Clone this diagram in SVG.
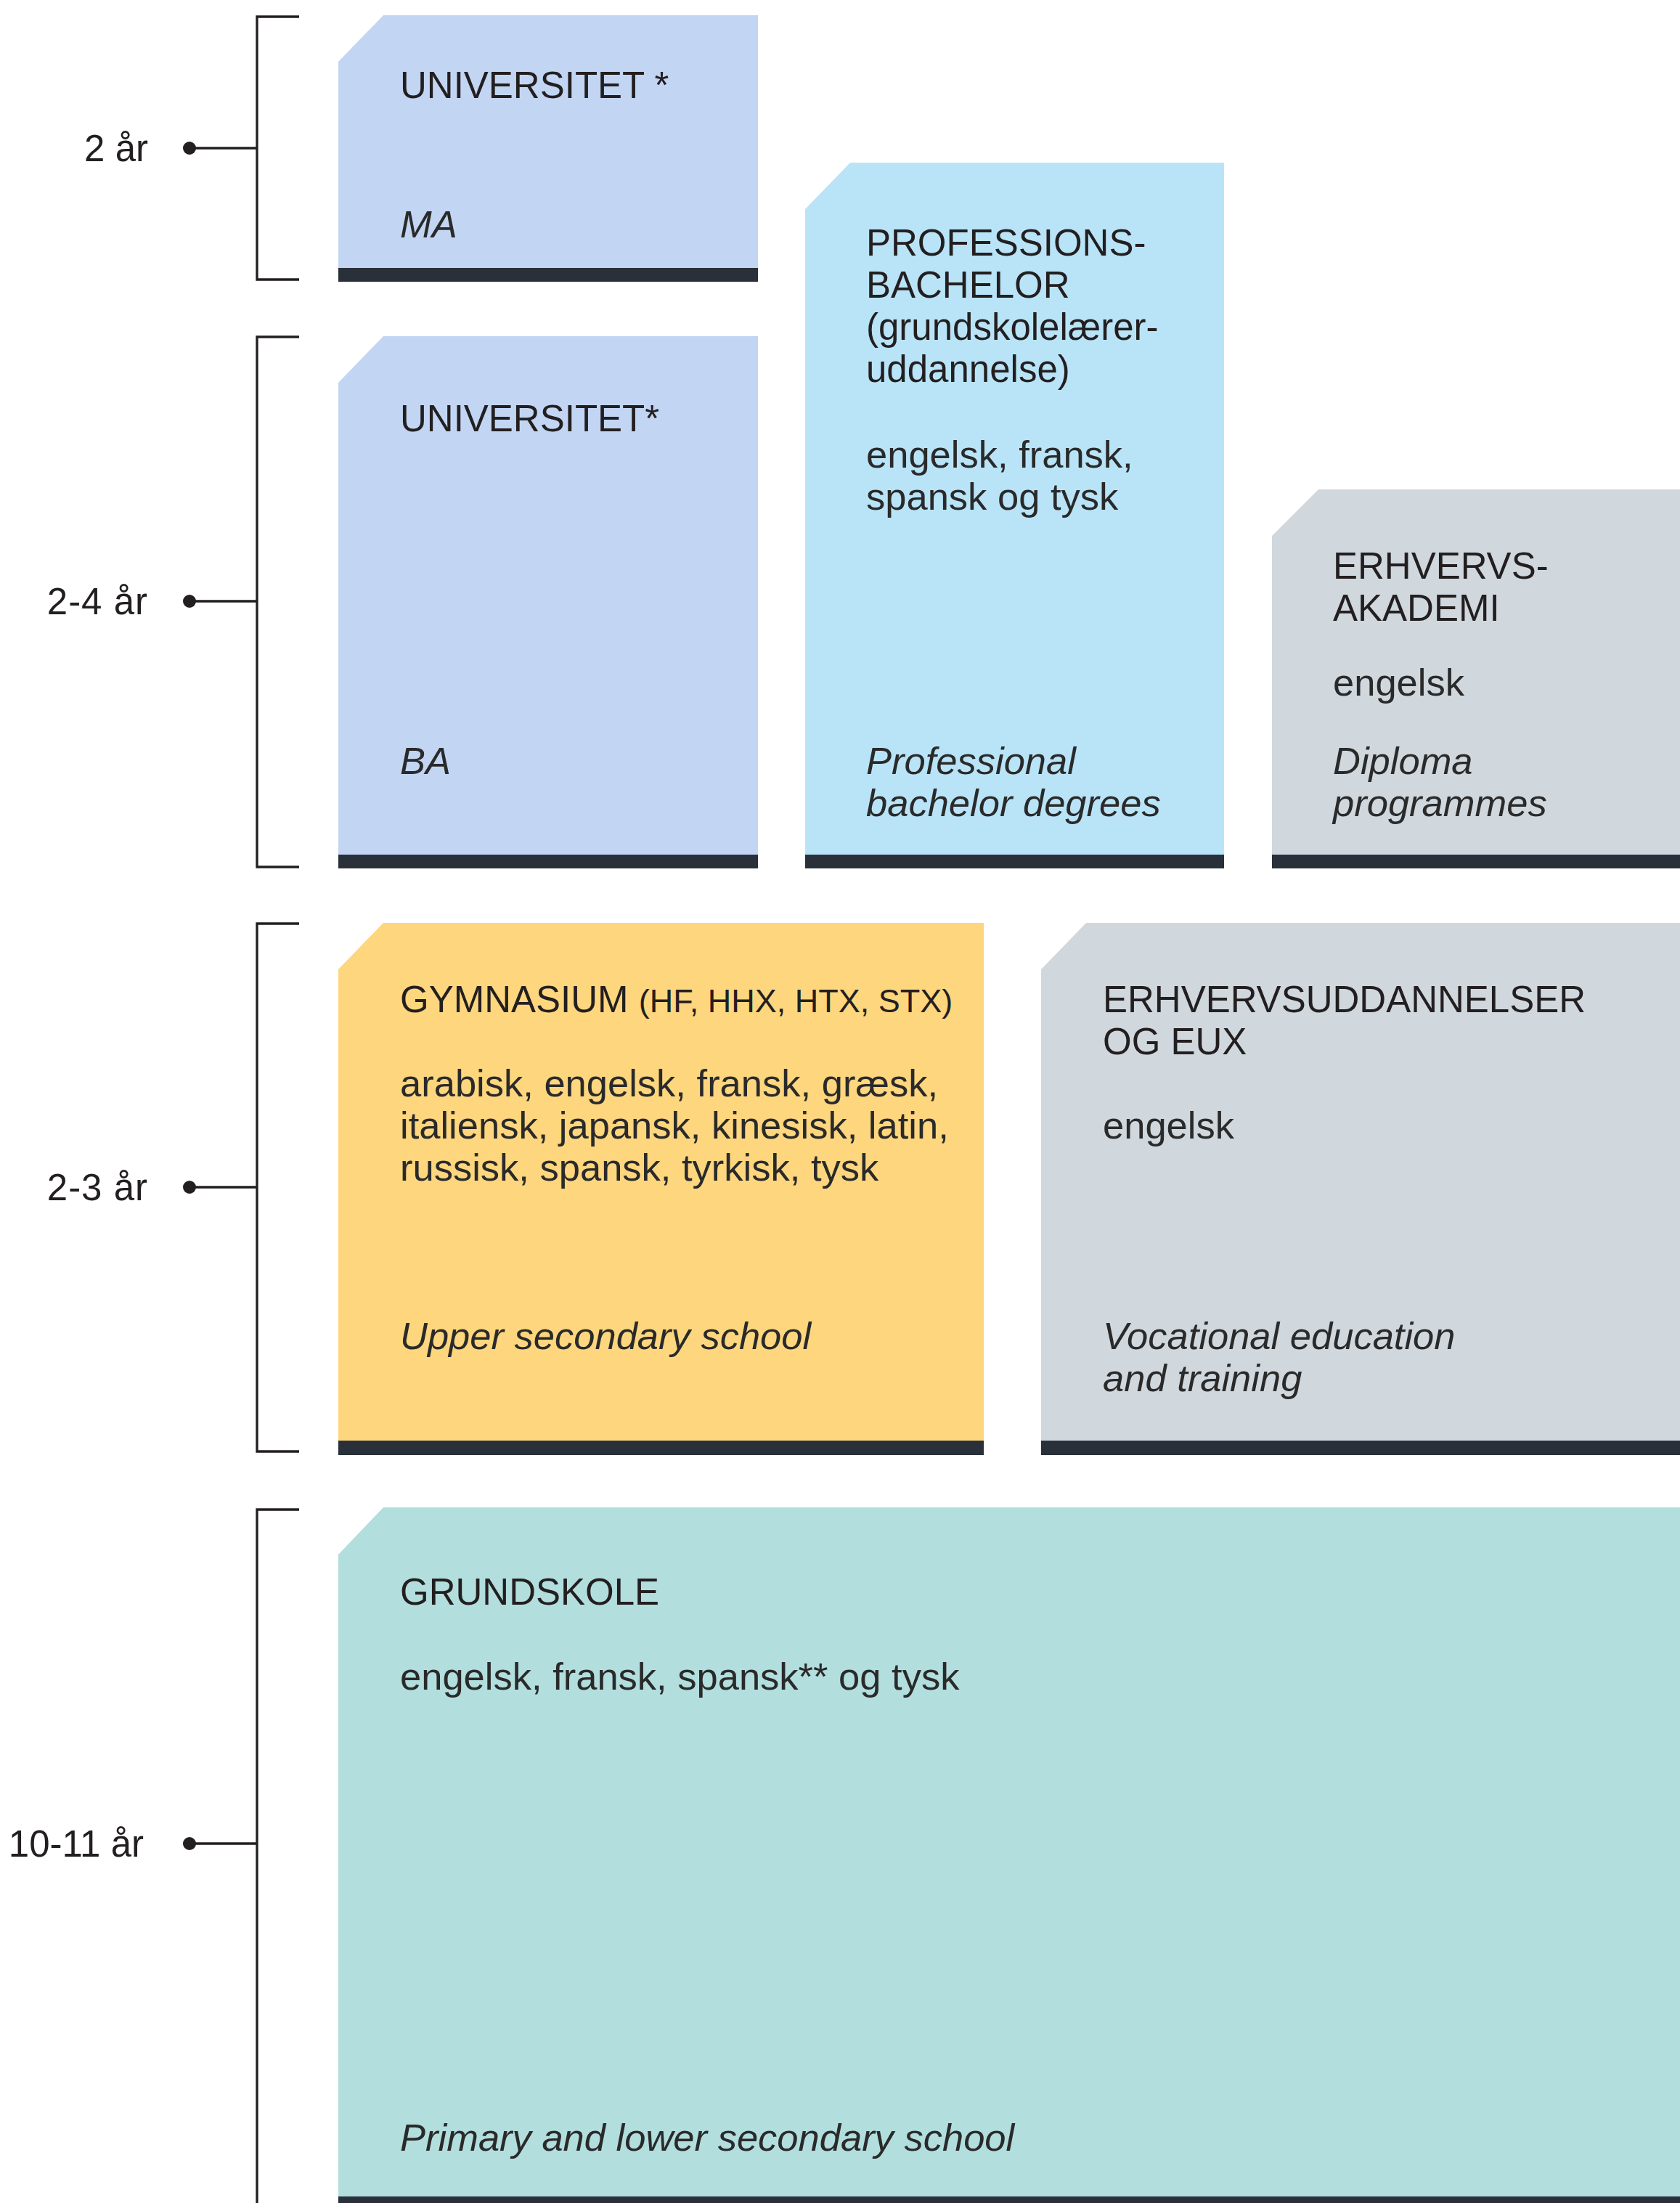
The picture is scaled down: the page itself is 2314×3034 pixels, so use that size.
<svg xmlns="http://www.w3.org/2000/svg" width="2314" height="3034" viewBox="0 0 2314 3034">
<style>
  text { font-family: "Liberation Sans", Arial, Helvetica, sans-serif; font-size: 51px; fill: #231f20; }
  .b { fill: #2a2a2a; font-size: 52.5px; }
  .i { font-style: italic; fill: #2a2a2a; font-size: 52.5px; }
  .sm { font-size: 45px; }
  .yr { text-anchor: end; }
  .band { fill: #29303a; }
  .br { fill: none; stroke: #231f20; stroke-width: 3.3; }
  .dot { fill: #231f20; }
</style>
<rect width="2314" height="3034" fill="#ffffff"/>

<g id="connectors">
  <g id="bracket-2ar">
    <path class="br" d="M412,23 H354 V385 H412"/>
    <line class="br" x1="261" y1="204" x2="354" y2="204"/>
    <circle class="dot" cx="261" cy="204" r="9"/>
    <text class="yr" x="204" y="222">2 år</text>
  </g>
  <g id="bracket-24ar">
    <path class="br" d="M412,464 H354 V1194 H412"/>
    <line class="br" x1="261" y1="828" x2="354" y2="828"/>
    <circle class="dot" cx="261" cy="828" r="9"/>
    <text class="yr" x="204" y="846" letter-spacing="1">2-4 år</text>
  </g>
  <g id="bracket-23ar">
    <path class="br" d="M412,1272 H354 V1999 H412"/>
    <line class="br" x1="261" y1="1635" x2="354" y2="1635"/>
    <circle class="dot" cx="261" cy="1635" r="9"/>
    <text class="yr" x="204" y="1653" letter-spacing="1">2-3 år</text>
  </g>
  <g id="bracket-1011ar">
    <path class="br" d="M412,2079 H354 V3040"/>
    <line class="br" x1="261" y1="2539" x2="354" y2="2539"/>
    <circle class="dot" cx="261" cy="2539" r="9"/>
    <text class="yr" x="198" y="2557">10-11 år</text>
  </g>
</g>

<g id="node-universitet-ma">
  <path fill="#c2d6f4" d="M528,21 H1044 V388 H466 V85 Z"/>
  <rect class="band" x="466" y="369" width="578" height="19"/>
  <text x="551" y="135">UNIVERSITET *</text>
  <text class="i" x="551" y="327">MA</text>
</g>

<g id="node-universitet-ba">
  <path fill="#c2d6f4" d="M528,463 H1044 V1196 H466 V527 Z"/>
  <rect class="band" x="466" y="1177" width="578" height="19"/>
  <text x="551" y="594">UNIVERSITET*</text>
  <text class="i" x="551" y="1066">BA</text>
</g>

<g id="node-professionsbachelor">
  <path fill="#b9e4f8" d="M1171,224 H1686 V1196 H1109 V288 Z"/>
  <rect class="band" x="1109" y="1177" width="577" height="19"/>
  <text x="1193" y="352">PROFESSIONS-</text>
  <text x="1193" y="410">BACHELOR</text>
  <text x="1193" y="468">(grundskolelærer-</text>
  <text x="1193" y="526">uddannelse)</text>
  <text class="b" x="1193" y="644">engelsk, fransk,</text>
  <text class="b" x="1193" y="702">spansk og tysk</text>
  <text class="i" x="1193" y="1066">Professional</text>
  <text class="i" x="1193" y="1124">bachelor degrees</text>
</g>

<g id="node-erhvervsakademi">
  <path fill="#d0d8de" d="M1816,674 H2314 V1196 H1752 V738 Z"/>
  <rect class="band" x="1752" y="1177" width="562" height="19"/>
  <text x="1836" y="797">ERHVERVS-</text>
  <text x="1836" y="855">AKADEMI</text>
  <text class="b" x="1836" y="958">engelsk</text>
  <text class="i" x="1836" y="1066">Diploma</text>
  <text class="i" x="1836" y="1124">programmes</text>
</g>

<g id="node-gymnasium">
  <path fill="#fdd67e" d="M528,1271 H1355 V2004 H466 V1335 Z"/>
  <rect class="band" x="466" y="1984" width="889" height="20"/>
  <text x="551" y="1394">GYMNASIUM <tspan class="sm">(HF, HHX, HTX, STX)</tspan></text>
  <text class="b" x="551" y="1510">arabisk, engelsk, fransk, græsk,</text>
  <text class="b" x="551" y="1568">italiensk, japansk, kinesisk, latin,</text>
  <text class="b" x="551" y="1626">russisk, spansk, tyrkisk, tysk</text>
  <text class="i" x="551" y="1858">Upper secondary school</text>
</g>

<g id="node-erhvervsuddannelser">
  <path fill="#d0d8de" d="M1496,1271 H2314 V2004 H1434 V1335 Z"/>
  <rect class="band" x="1434" y="1984" width="880" height="20"/>
  <text x="1519" y="1394">ERHVERVSUDDANNELSER</text>
  <text x="1519" y="1452">OG EUX</text>
  <text class="b" x="1519" y="1568">engelsk</text>
  <text class="i" x="1519" y="1858">Vocational education</text>
  <text class="i" x="1519" y="1916">and training</text>
</g>

<g id="node-grundskole">
  <path fill="#b2dede" d="M528,2076 H2314 V3034 H466 V2141 Z"/>
  <rect class="band" x="466" y="3025" width="1848" height="9"/>
  <text x="551" y="2210">GRUNDSKOLE</text>
  <text class="b" x="551" y="2327">engelsk, fransk, spansk** og tysk</text>
  <text class="i" x="551" y="2962">Primary and lower secondary school</text>
</g>
</svg>
